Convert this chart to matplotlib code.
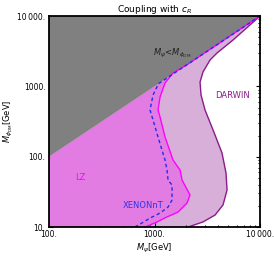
import matplotlib
matplotlib.use("Agg")
from matplotlib import pyplot as plt
from matplotlib.ticker import FixedLocator, NullFormatter

# exclusion curves (M_psi, M_DM) in GeV
lz_x = [813, 906, 1056, 1313, 1670, 2032, 2170, 1822, 1745, 1497, 1258, 1128, 1079, 1128, 1258, 1497, 2000]
lz_y = [10, 10.7, 11.8, 13.9, 16.3, 21.9, 28.5, 46.6, 64.6, 89.7, 190, 366, 461, 705, 1115, 1548, 2000]

xe_x = [650, 760, 906, 1128, 1343, 1465, 1465, 1343, 1313, 1258, 1079, 968, 906, 968, 1090]
xe_y = [10, 11.4, 13.4, 15.8, 19.2, 24.2, 39.5, 46.6, 64.6, 89.7, 190, 332, 461, 753, 1090]

dw_x = [2080, 2880, 3750, 4460, 4870, 4760, 4360, 3590, 3010, 2760, 2700, 2880, 3360, 3910, 5550, 10000]
dw_y = [10, 11.8, 14.8, 20.6, 33.6, 58.6, 113, 239, 461, 753, 1150, 1600, 2370, 2980, 4560, 10000]

xlim = [100, 10000]
ylim = [10, 10000]

fig = plt.figure(figsize=(2.74, 2.57), dpi=100)
ax = fig.add_axes([0.179, 0.1167, 0.77, 0.821])
ax.set_xscale('log')
ax.set_yscale('log')

# DARWIN reach (light purple), below the diagonal
ax.fill([xlim[0]] + dw_x + [xlim[0]], [ylim[0]] + dw_y + [xlim[0]],
        color='#d8afd8', lw=0, zorder=1)
# LZ excluded (magenta)
ax.fill([xlim[0]] + lz_x + [xlim[0]], [ylim[0]] + lz_y + [xlim[0]],
        color='#e27ce2', lw=0, zorder=2)
# M_psi < M_DM region (gray)
ax.fill([xlim[0], xlim[1], xlim[0]], [xlim[0], ylim[1], ylim[1]],
        color='#808080', lw=0, zorder=3)

ax.plot(dw_x, dw_y, color='#8b1a8b', lw=1.0, zorder=4)
ax.plot(lz_x + [10000], lz_y + [10000], color='#ff00ff', lw=1.0, zorder=4)
ax.plot(xe_x + [10000], xe_y + [10000], color='#2a2ae6', lw=1.0,
        ls=(0, (2.5, 2)), zorder=5)

ax.text(197, 50, 'LZ', color='#ff00ff', fontsize=6, ha='center', va='center', zorder=6)
ax.text(778, 20, 'XENONnT', color='#3333dd', fontsize=6, ha='center', va='center', zorder=6)
ax.text(5430, 753, 'DARWIN', color='#8b1a8b', fontsize=6, ha='center', va='center', zorder=6)
ax.text(1465, 2980, r'$M_\psi\!<\!M_{\phi_{\rm DM}}$', color='#202020', fontsize=6,
        ha='center', va='center', zorder=6)

ax.set_xlim(xlim)
ax.set_ylim(ylim)

# ticks
ax.xaxis.set_major_locator(FixedLocator([100, 1000, 10000]))
ax.yaxis.set_major_locator(FixedLocator([10, 100, 1000, 10000]))
minors = [m * 10**e for e in range(1, 5) for m in range(2, 10)]
ax.xaxis.set_minor_locator(FixedLocator(minors))
ax.yaxis.set_minor_locator(FixedLocator(minors))
ax.yaxis.set_minor_formatter(NullFormatter())
ax.xaxis.set_minor_formatter(NullFormatter())
ax.set_xticklabels(['100.', '1000.', '10\u2009000.'])
ax.set_yticklabels(['10.', '100.', '1000.', '10\u2009000.'])
ax.tick_params(which='both', direction='in', top=True, right=True,
               labelsize=5.5, width=0.8, color='black')
ax.tick_params(axis='x', which='both', pad=2.5)
ax.tick_params(axis='y', which='both', pad=2.5)
ax.tick_params(which='major', length=3)
ax.tick_params(which='minor', length=1.8)
for s in ax.spines.values():
    s.set_linewidth(1.3)
    s.set_zorder(10)

ax.set_xlabel(r'$M_\psi$[GeV]', fontsize=6, labelpad=2)
ax.set_ylabel(r'$M_{\phi_{\rm DM}}$[GeV]', fontsize=6, labelpad=2)
ax.set_title(r'Coupling with $c_R$', fontsize=6.5, pad=3)

fig.savefig('out.png', dpi=100)
